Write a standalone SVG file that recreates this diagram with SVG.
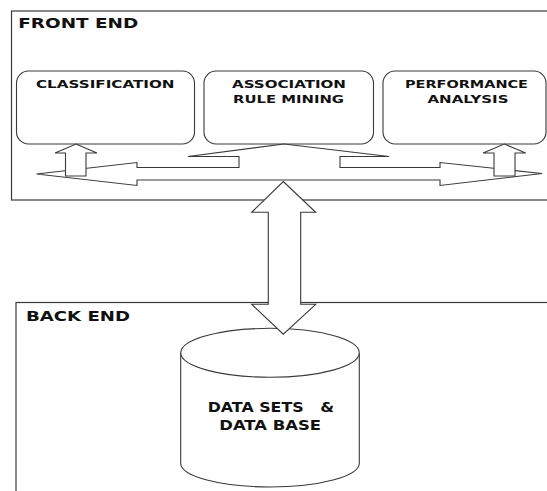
<svg xmlns="http://www.w3.org/2000/svg" width="547" height="491" viewBox="0 0 547 491">
<style>
.frame{fill:#fff;stroke:#3a3a3a;stroke-width:1.2}
.box{fill:#fff;stroke:#3a3a3a;stroke-width:1.1}
.arrow{fill:#fff;stroke:#3a3a3a;stroke-width:1.1;stroke-linejoin:miter}
.lbl{font-family:"DejaVu Sans",Verdana,sans-serif;font-weight:bold;fill:#111}
.big{font-size:14.5px}
.small{font-size:10.5px}
.mid{font-size:14px}
</style>
<rect width="547" height="491" fill="#fff"/>
<g id="front-end">
<rect class="frame" x="11.5" y="11" width="560" height="189"/>
<text class="lbl big" x="18.3" y="27.7" textLength="120" lengthAdjust="spacingAndGlyphs">FRONT END</text>
</g>
<g id="back-end">
<rect class="frame" x="16" y="302.5" width="560" height="220"/>
<text class="lbl big" x="26" y="320.7" textLength="104" lengthAdjust="spacingAndGlyphs">BACK END</text>
</g>
<g id="classification">
<rect class="box" x="16.5" y="71" width="178" height="73" rx="12" ry="12"/>
<text class="lbl small" x="36" y="88" textLength="138.5" lengthAdjust="spacingAndGlyphs">CLASSIFICATION</text>
</g>
<g id="association">
<rect class="box" x="204" y="71" width="169.5" height="73" rx="12" ry="12"/>
<text class="lbl small" x="232" y="88" textLength="114" lengthAdjust="spacingAndGlyphs">ASSOCIATION</text>
<text class="lbl small" x="233" y="103" textLength="111" lengthAdjust="spacingAndGlyphs">RULE MINING</text>
</g>
<g id="performance">
<rect class="box" x="383" y="71" width="163" height="73" rx="12" ry="12"/>
<text class="lbl small" x="405" y="88" textLength="123" lengthAdjust="spacingAndGlyphs">PERFORMANCE</text>
<text class="lbl small" x="427.5" y="103" textLength="81" lengthAdjust="spacingAndGlyphs">ANALYSIS</text>
</g>
<g id="database">
<path class="box" d="M180.7,352.8 L180.7,463.3 A89.3,23.7 0 0 0 359.3,463.3 L359.3,352.8 A89.3,24.5 0 0 0 180.7,352.8 Z"/>
<path class="box" fill="none" d="M180.7,352.8 A89.3,24.5 0 0 0 359.3,352.8"/>
<text class="lbl mid" x="207.7" y="412" textLength="126.3" lengthAdjust="spacingAndGlyphs" xml:space="preserve">DATA SETS   &amp;</text>
<text class="lbl mid" x="219.3" y="430" textLength="101.7" lengthAdjust="spacingAndGlyphs">DATA BASE</text>
</g>
<g id="connectors">
<polygon class="arrow" points="36.5,174 137,162.5 137,167.5 239,167.5 239,156.5 188,156.5 284,144 389,156.5 340,156.5 340,167.5 440,167.5 440,162.5 542,173.5 440,185.5 440,180 137,180 137,185.5"/>
<polygon class="arrow" points="76,144 97,153 86,153 86,176 65.5,176 65.5,153 55,153"/>
<polygon class="arrow" points="504.3,144 525.7,153 515,153 515,176 494,176 494,153 483,153"/>
<polygon class="arrow" points="283.3,181.5 315.7,212.3 300.7,212.3 300.7,304.3 315.7,304.3 283.3,334.2 251.7,304.3 268.3,304.3 268.3,212.3 251.7,212.3"/>
</g>
</svg>
